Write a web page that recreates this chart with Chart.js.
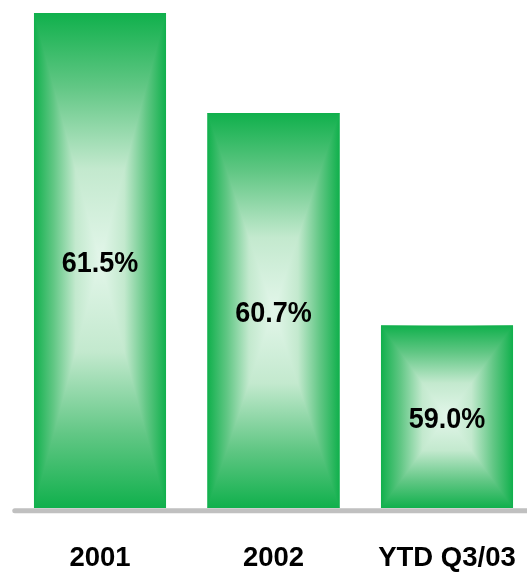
<!DOCTYPE html>
<html><head><meta charset="utf-8">
<script src="https://cdn.jsdelivr.net/npm/chart.js@4/dist/chart.umd.min.js"></script>
<style>
html,body{margin:0;padding:0;background:#fff;overflow:hidden;width:527px;height:574px}
#wrap{position:absolute;left:0;top:0;width:527px;height:574px;overflow:hidden}
#c{display:block;width:541px;height:574px}
</style>
</head><body>
<div id="wrap"><canvas id="c" width="541" height="574"></canvas></div>
<script>
const categories = ['2001', '2002', 'YTD Q3/03'];
const values = [61.5, 60.7, 59.0];
const valueLabels = ['61.5%', '60.7%', '59.0%'];
const yMin = 57.54;
const yMax = 61.604;

const EDGE = '#10b04c';
const stopsT = [[0, '#10b04c'], [0.3, '#62c785'], [0.63, '#c3e9ce'], [1, '#e3f6ea']];

function addSym(g) {
  stopsT.forEach(([t, c]) => {
    g.addColorStop(t / 2, c);
    g.addColorStop(1 - t / 2, c);
  });
}

const rectGrad = {
  id: 'rectGrad',
  afterDatasetsDraw(chart) {
    const ctx = chart.ctx;
    const area = chart.chartArea;
    const meta = chart.getDatasetMeta(0);
    ctx.save();
    ctx.strokeStyle = '#c0c0c0';
    ctx.lineWidth = 5;
    ctx.lineCap = 'round';
    ctx.beginPath();
    ctx.moveTo(area.left + 1.5, area.bottom + 2.8);
    ctx.lineTo(chart.width + 5, area.bottom + 2.8);
    ctx.stroke();
    ctx.restore();

    meta.data.forEach((bar, i) => {
      const p = bar.getProps(['x', 'y', 'base', 'width'], true);
      const L = p.x - p.width / 2, R = p.x + p.width / 2, T = p.y, B = p.base;
      const cx = p.x, cy = (T + B) / 2;
      ctx.save();
      let g = ctx.createLinearGradient(L, 0, R, 0);
      addSym(g);
      ctx.fillStyle = g;
      ctx.fillRect(L, T, R - L, B - T);
      ctx.beginPath();
      ctx.moveTo(L, T); ctx.lineTo(R, T); ctx.lineTo(cx, cy); ctx.closePath();
      ctx.moveTo(L, B); ctx.lineTo(R, B); ctx.lineTo(cx, cy); ctx.closePath();
      ctx.clip();
      g = ctx.createLinearGradient(0, T, 0, B);
      addSym(g);
      ctx.fillStyle = g;
      ctx.fillRect(L, T, R - L, B - T);
      ctx.restore();

      ctx.save();
      ctx.font = 'bold 27px "Liberation Sans", Arial, sans-serif';
      ctx.fillStyle = '#000';
      ctx.textAlign = 'center';
      ctx.textBaseline = 'middle';
      ctx.translate(cx, cy + 3);
      ctx.scale(1, 1.08);
      ctx.fillText(valueLabels[i], 0, 0);
      ctx.restore();
    });
  }
};

new Chart(document.getElementById('c'), {
  type: 'bar',
  data: {
    labels: categories,
    datasets: [{
      data: values,
      base: yMin,
      backgroundColor: EDGE,
      borderWidth: 0,
      barPercentage: 0.761,
      categoryPercentage: 1
    }]
  },
  options: {
    responsive: false,
    devicePixelRatio: 1,
    animation: false,
    layout: { padding: { left: 13.25, right: 7.25, top: 0, bottom: 0 } },
    plugins: { legend: { display: false }, tooltip: { enabled: false } },
    scales: {
      y: { display: false, min: yMin, max: yMax },
      x: {
        grid: { display: false, drawTicks: true, tickLength: 34 },
        border: { display: false },
        ticks: {
          color: '#000',
          padding: 0,
          font: { family: '"Liberation Sans", Arial, sans-serif', size: 27.5, weight: 'bold' }
        },
        afterFit(scale) { scale.height = 66; }
      }
    }
  },
  plugins: [rectGrad]
});
</script>
</body></html>
